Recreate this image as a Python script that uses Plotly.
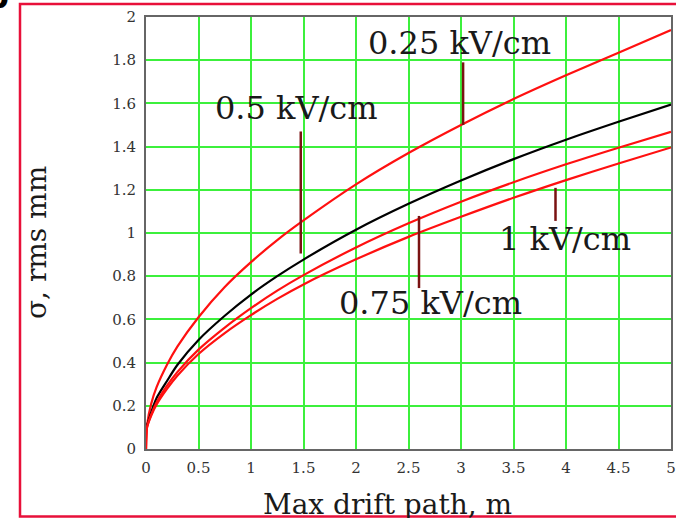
import plotly.graph_objects as go

# ---------------- data ----------------
drift_path_m = [0, 0.01, 0.05, 0.1, 0.2, 0.3, 0.5, 0.75, 1, 1.25, 1.5, 2, 2.5, 3, 3.5, 4, 4.5, 5]
sigma_025 = [0.0, 0.11, 0.21, 0.285, 0.39, 0.475, 0.61, 0.75, 0.865, 0.967, 1.058, 1.225, 1.37, 1.50, 1.62, 1.73, 1.835, 1.94]
sigma_05 = [0.10, 0.11, 0.17, 0.235, 0.315, 0.39, 0.505, 0.617, 0.715, 0.80, 0.877, 1.015, 1.135, 1.243, 1.342, 1.432, 1.515, 1.595]
sigma_075 = [0.0, 0.10, 0.16, 0.215, 0.293, 0.357, 0.46, 0.562, 0.652, 0.733, 0.805, 0.933, 1.045, 1.145, 1.235, 1.318, 1.395, 1.468]
sigma_1 = [0.0, 0.10, 0.155, 0.205, 0.278, 0.34, 0.44, 0.537, 0.62, 0.695, 0.762, 0.878, 0.982, 1.075, 1.163, 1.245, 1.322, 1.396]

x_ticks = [0, 0.5, 1, 1.5, 2, 2.5, 3, 3.5, 4, 4.5, 5]
x_tick_text = ["0", "0.5", "1", "1.5", "2", "2.5", "3", "3.5", "4", "4.5", "5"]
y_ticks = [0, 0.2, 0.4, 0.6, 0.8, 1, 1.2, 1.4, 1.6, 1.8, 2]
y_tick_text = ["0", "0.2", "0.4", "0.6", "0.8", "1", "1.2", "1.4", "1.6", "1.8", "2"]

label_text = ["0.25 kV/cm", "0.5 kV/cm", "0.75 kV/cm", "1 kV/cm"]
label_x = [2.99, 1.43, 2.71, 3.99]
label_y = [1.88, 1.58, 0.675, 0.97]
pointer_x = [3.02, 1.474, 2.60, 3.90]
pointer_y0 = [1.79, 1.47, 1.079, 1.209]
pointer_y1 = [1.50, 0.905, 0.745, 1.056]

# ---------------- layout constants ----------------
W, H = 676, 518
ML, MR, MT, MB = 146, 5, 17, 69
PW, PH = W - ML - MR, H - MT - MB

def px(xp):
    return (xp - ML) / PW

def py(yp):
    return (H - MB - yp) / PH

RED = "#ff1010"
GRID = "#3cf03c"
SERIF = "DejaVu Serif"

fig = go.Figure()
for ys, col in [(sigma_025, RED), (sigma_05, "black"), (sigma_075, RED), (sigma_1, RED)]:
    fig.add_trace(go.Scatter(x=drift_path_m, y=ys, mode="lines",
                             line=dict(color=col, width=2.2, shape="spline", smoothing=0.8),
                             showlegend=False, hoverinfo="skip"))

for xv, y0, y1 in zip(pointer_x, pointer_y0, pointer_y1):
    fig.add_trace(go.Scatter(x=[xv, xv], y=[y0, y1], mode="lines",
                             line=dict(color="#7a1212", width=2.5),
                             showlegend=False, hoverinfo="skip"))

annotations = []
for t, xv, yv in zip(label_text, label_x, label_y):
    annotations.append(dict(x=xv, y=yv, xref="x", yref="y", text=t, showarrow=False,
                            font=dict(family=SERIF, size=32, color="#1a1a1a"),
                            xanchor="center", yanchor="middle"))

annotations.append(dict(x=px(36), y=py(243), xref="paper", yref="paper", text="σ, rms mm",
                        textangle=-90, showarrow=False,
                        font=dict(family=SERIF, size=28, color="#1a1a1a"),
                        xanchor="center", yanchor="middle"))
annotations.append(dict(x=px(387), y=py(505), xref="paper", yref="paper", text="Max drift path, m",
                        showarrow=False,
                        font=dict(family=SERIF, size=28, color="#1a1a1a"),
                        xanchor="center", yanchor="middle"))
annotations.append(dict(x=px(11), y=py(18), xref="paper", yref="paper", text="<b>b</b>",
                        showarrow=False,
                        font=dict(family="DejaVu Sans", size=32, color="black"),
                        xanchor="right", yanchor="bottom"))

shapes = [dict(type="rect", xref="paper", yref="paper",
               x0=px(20), x1=px(690), y0=py(516.5), y1=py(4),
               line=dict(color="#e8103a", width=2.5), layer="above")]

fig.update_layout(
    width=W, height=H,
    margin=dict(l=ML, r=MR, t=MT, b=MB, autoexpand=False),
    paper_bgcolor="white", plot_bgcolor="white",
    annotations=annotations, shapes=shapes,
    xaxis=dict(range=[0, 5], tickvals=x_ticks, ticktext=x_tick_text,
               showgrid=True, gridcolor=GRID, gridwidth=1.5, zeroline=False,
               showline=True, linecolor="#666", linewidth=2, mirror=True,
               ticks="", ticklabelstandoff=4, automargin=False,
               tickfont=dict(family=SERIF, size=15, color="#333")),
    yaxis=dict(range=[0, 2], tickvals=y_ticks, ticktext=y_tick_text,
               showgrid=True, gridcolor=GRID, gridwidth=1.5, zeroline=False,
               showline=True, linecolor="#666", linewidth=2, mirror=True,
               ticks="", ticklabelstandoff=5, automargin=False,
               tickfont=dict(family=SERIF, size=15, color="#333")),
)

fig.write_html("out.html")
